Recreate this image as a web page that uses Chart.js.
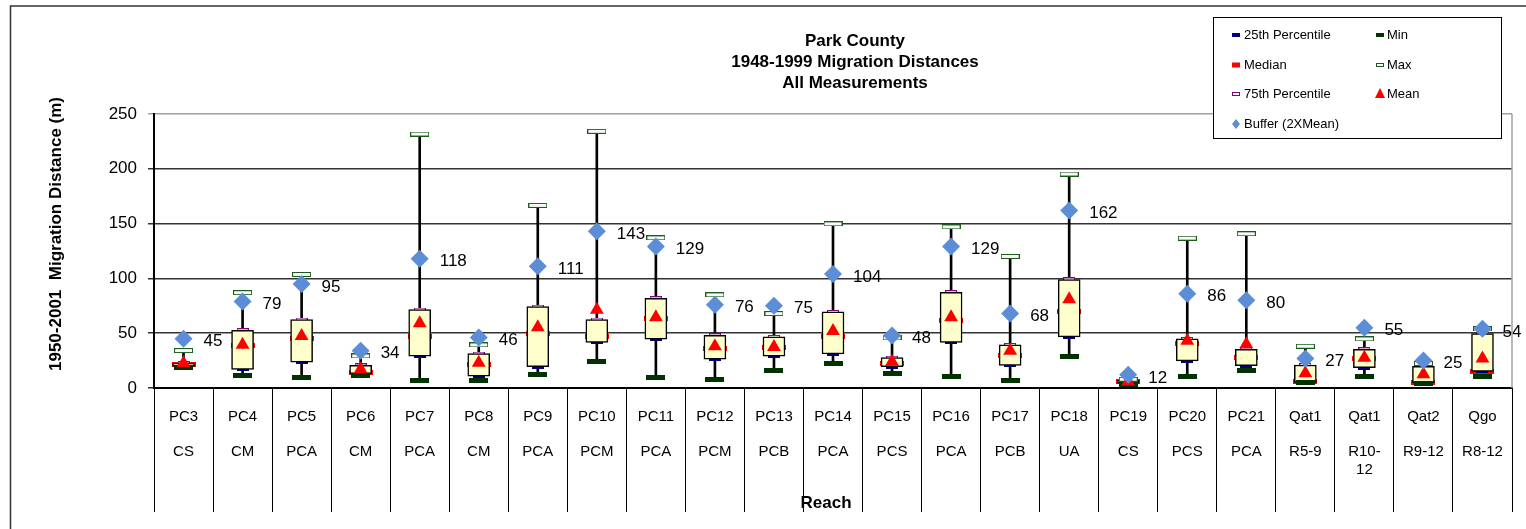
<!DOCTYPE html>
<html>
<head>
<meta charset="utf-8">
<title>Park County 1948-1999 Migration Distances</title>
<script src="https://cdn.jsdelivr.net/npm/chart.js@4.4.0/dist/chart.umd.min.js"></script>
<style>
  html, body { margin: 0; padding: 0; background: #fff; }
  canvas { display: block; }
</style>
</head>
<body>
<canvas id="myChart" width="1526" height="529"></canvas>
<script>
// reach names (first label row) and reach types (second label row)
const reachName = ['PC3','PC4','PC5','PC6','PC7','PC8','PC9','PC10','PC11','PC12','PC13','PC14','PC15','PC16','PC17','PC18','PC19','PC20','PC21','Qat1','Qat1','Qat2','Qgo'];
const reachType = ['CS','CM','PCA','CM','PCA','CM','PCA','PCM','PCA','PCM','PCB','PCA','PCS','PCA','PCB','UA','CS','PCS','PCA','R5-9','R10-12','R9-12','R8-12'];

// statistics (m)
const minVal  = [18.3, 11, 9.5, 11, 7, 6.7, 12.2, 23.8, 9.5, 8.2, 16.2, 22.3, 13.1, 10.7, 6.7, 29, 3, 10.7, 15.9, 5, 10.7, 4, 10.7];
const pct25   = [19.8, 17, 23.5, 13.1, 29, 10.7, 19.5, 41.7, 44.5, 26.2, 29, 31, 19.5, 41.7, 20.7, 46.6, 4.5, 24.7, 20.4, 5.2, 18.6, 4.6, 15.2];
const median  = [21, 39, 45, 14, 47, 21, 50, 47, 63, 36, 37, 47, 22, 62, 30, 70, 5.5, 41, 28, 5.5, 27, 5, 15];
const pct75   = [22.8, 52.7, 62.5, 20.7, 71.6, 31.4, 74.3, 62.5, 81.9, 48.1, 46.6, 69.4, 27.7, 87.4, 39.3, 99, 7, 44.8, 35.3, 21, 35.3, 19.8, 49.7];
const maxVal  = [34.2, 87, 103.6, 29.2, 231.7, 39.3, 166.6, 234.2, 137, 85, 67.9, 149.8, 45.7, 147, 120, 195.2, 8, 136.7, 140.7, 38.1, 44.8, 22.3, 53.9];
const meanVal = [22.5, 39.5, 47.5, 17, 59, 23, 55.5, 71.5, 64.5, 38, 37.5, 52, 24, 64.5, 34, 81, 6, 43, 40, 13.5, 27.5, 12.5, 27];
const buffer  = [45, 79, 95, 34, 118, 46, 111, 143, 129, 76, 75, 104, 48, 129, 68, 162, 12, 86, 80, 27, 55, 25, 54];

const yTicks = [0, 50, 100, 150, 200, 250];

const FONT = 'Arial, "Liberation Sans", sans-serif';

// small marker canvases used as point styles
function marker(w, h, fill, stroke) {
    const c = document.createElement('canvas');
    c.width = w;
    c.height = h;
    const g = c.getContext('2d');
    g.fillStyle = fill;
    g.fillRect(0, 0, w, h);
    if (stroke) {
        g.strokeStyle = stroke;
        g.lineWidth = 1;
        g.strokeRect(0.5, 0.5, w - 1, h - 1);
    }
    return c;
}

const mkMin = marker(19, 5, '#003300');
const mkMax = marker(19, 5, '#F4FAF4', '#1E5A1E');
const mkMed = marker(24, 5, '#FF0000');
const mkP25 = marker(12, 4, '#000080');
const mkP75 = marker(12, 4, '#FFFFFF', '#800080');

const labels = reachName.map((n, i) => {
    const t = reachType[i];
    return t.length > 5 ? [n, '', t.slice(0, 4), t.slice(4)] : [n, '', t];
});

function pts(arr, style, order) {
    return {
        type: 'line',
        data: arr,
        showLine: false,
        pointStyle: style,
        pointRadius: 5,
        pointHoverRadius: 5,
        order: order
    };
}

// labels next to the blue diamonds
const bufferLabels = {
    id: 'bufferLabels',
    afterDatasetsDraw(chart) {
        const meta = chart.getDatasetMeta(0);
        const ctx = chart.ctx;
        ctx.save();
        ctx.fillStyle = '#000';
        ctx.font = '17px ' + FONT;
        ctx.textAlign = 'left';
        ctx.textBaseline = 'middle';
        meta.data.forEach((p, i) => {
            ctx.fillText(String(buffer[i]), p.x + 20, p.y + 3);
        });
        ctx.restore();
    }
};

function legendRect(ctx, x, y, w, h, fill, stroke) {
    ctx.fillStyle = fill;
    ctx.fillRect(x - w / 2, y - h / 2, w, h);
    if (stroke) {
        ctx.strokeStyle = stroke;
        ctx.lineWidth = 1;
        ctx.strokeRect(x - w / 2 + 0.5, y - h / 2 + 0.5, w - 1, h - 1);
    }
}

const decor = {
    id: 'decor',
    beforeDraw(chart) {
        const ctx = chart.ctx;
        ctx.save();
        ctx.fillStyle = '#fff';
        ctx.fillRect(0, 0, chart.width, chart.height);
        ctx.restore();
    },
    afterDraw(chart) {
        const ctx = chart.ctx;
        const a = chart.chartArea;
        ctx.save();

        // outer frame
        ctx.strokeStyle = '#333';
        ctx.lineWidth = 1.5;
        ctx.beginPath();
        ctx.moveTo(10.5, chart.height);
        ctx.lineTo(10.5, 6);
        ctx.lineTo(chart.width, 6);
        ctx.stroke();

        // plot area right border
        ctx.strokeStyle = '#A0A0A0';
        ctx.lineWidth = 1.5;
        ctx.beginPath();
        ctx.moveTo(a.right, a.top);
        ctx.lineTo(a.right, a.bottom);
        ctx.stroke();

        // title
        ctx.fillStyle = '#000';
        ctx.font = 'bold 17px ' + FONT;
        ctx.textAlign = 'center';
        ctx.textBaseline = 'middle';
        ctx.fillText('Park County', 855, 41);
        ctx.fillText('1948-1999 Migration Distances', 855, 62);
        ctx.fillText('All Measurements', 855, 83);

        // axis titles
        ctx.fillText('Reach', 826, 503);
        ctx.save();
        ctx.translate(56, 234);
        ctx.rotate(-Math.PI / 2);
        ctx.fillText('1950-2001  Migration Distance (m)', 0, 0);
        ctx.restore();

        // legend box
        ctx.fillStyle = '#fff';
        ctx.fillRect(1213, 17, 289, 121);
        ctx.strokeStyle = '#000';
        ctx.lineWidth = 1;
        ctx.strokeRect(1213.5, 17.5, 288, 121);

        const c1 = 1236, c2 = 1380;
        const rows = [35, 65, 94, 124];
        legendRect(ctx, c1, rows[0], 8, 4, '#000080');
        legendRect(ctx, c2, rows[0], 8, 4, '#003300');
        legendRect(ctx, c1, rows[1], 8, 5, '#FF0000');
        legendRect(ctx, c2, rows[1], 8, 4, '#FFFFFF', '#1E5A1E');
        legendRect(ctx, c1, rows[2], 8, 4, '#FFFFFF', '#800080');
        // triangle
        ctx.fillStyle = '#FF0000';
        ctx.beginPath();
        ctx.moveTo(c2, rows[2] - 6);
        ctx.lineTo(c2 + 5, rows[2] + 4);
        ctx.lineTo(c2 - 5, rows[2] + 4);
        ctx.closePath();
        ctx.fill();
        // diamond
        ctx.fillStyle = '#5B8ED6';
        ctx.beginPath();
        ctx.moveTo(c1, rows[3] - 5);
        ctx.lineTo(c1 + 4, rows[3]);
        ctx.lineTo(c1, rows[3] + 5);
        ctx.lineTo(c1 - 4, rows[3]);
        ctx.closePath();
        ctx.fill();

        ctx.fillStyle = '#000';
        ctx.font = '13px ' + FONT;
        ctx.textAlign = 'left';
        ctx.textBaseline = 'middle';
        ctx.fillText('25th Percentile', 1244, rows[0]);
        ctx.fillText('Min', 1387, rows[0]);
        ctx.fillText('Median', 1244, rows[1]);
        ctx.fillText('Max', 1387, rows[1]);
        ctx.fillText('75th Percentile', 1244, rows[2]);
        ctx.fillText('Mean', 1387, rows[2]);
        ctx.fillText('Buffer (2XMean)', 1244, rows[3]);

        ctx.restore();
    }
};

const boxData = pct25.map((q, i) => [q, pct75[i]]);
const whiskerData = minVal.map((m, i) => [m, maxVal[i]]);

const ctx = document.getElementById('myChart').getContext('2d');
const grafico = new Chart(ctx, {
    type: 'bar',
    data: {
        labels: labels,
        datasets: [
            Object.assign(pts(buffer, 'rectRot', 0), {
                label: 'Buffer (2XMean)', pointRadius: 9, pointHoverRadius: 9,
                backgroundColor: '#5B8ED6', borderColor: '#5B8ED6', borderWidth: 0
            }),
            Object.assign(pts(meanVal, 'triangle', 1), {
                label: 'Mean', pointRadius: 8, pointHoverRadius: 8,
                backgroundColor: '#FF0000', borderColor: '#FF0000', borderWidth: 0
            }),
            Object.assign(pts(maxVal, mkMax, 2), { label: 'Max' }),
            Object.assign(pts(minVal, mkMin, 3), { label: 'Min' }),
            {
                label: 'Box',
                data: boxData,
                backgroundColor: '#FFFFCC',
                borderColor: '#000',
                borderWidth: 1.5,
                borderSkipped: false,
                barThickness: 22,
                grouped: false,
                order: 4
            },
            Object.assign(pts(pct25, mkP25, 5), { label: '25th Percentile' }),
            Object.assign(pts(pct75, mkP75, 6), { label: '75th Percentile' }),
            Object.assign(pts(median, mkMed, 7), { label: 'Median' }),
            {
                label: 'Whisker',
                data: whiskerData,
                backgroundColor: '#000',
                borderWidth: 0,
                barThickness: 2,
                grouped: false,
                order: 8
            }
        ]
    },
    options: {
        responsive: false,
        animation: false,
        layout: { padding: { left: 0, top: 114, right: 14, bottom: 0 } },
        plugins: {
            legend: { display: false },
            title: { display: false },
            tooltip: { enabled: false }
        },
        scales: {
            x: {
                offset: true,
                grid: {
                    offset: true,
                    drawOnChartArea: false,
                    drawTicks: true,
                    tickLength: 124,
                    color: '#000',
                    lineWidth: 1
                },
                border: { color: '#000', width: 2 },
                ticks: {
                    autoSkip: false,
                    maxRotation: 0,
                    minRotation: 0,
                    padding: -103.75,
                    color: '#000',
                    font: { family: FONT, size: 15, lineHeight: '17.5px' }
                },
                afterFit: s => { s.height = 141; }
            },
            y: {
                min: 0,
                max: 250,
                afterBuildTicks: s => { s.ticks = yTicks.map(v => ({ value: v })); },
                grid: {
                    color: c => (c.tick && c.tick.value === 250) ? '#A0A0A0' : '#333',
                    lineWidth: 1.5,
                    tickLength: 6
                },
                border: { color: '#000', width: 2 },
                ticks: {
                    padding: 11,
                    color: '#000',
                    font: { family: FONT, size: 17 }
                },
                afterFit: s => { s.width = 154; }
            }
        }
    },
    plugins: [decor, bufferLabels]
});
</script>
</body>
</html>
